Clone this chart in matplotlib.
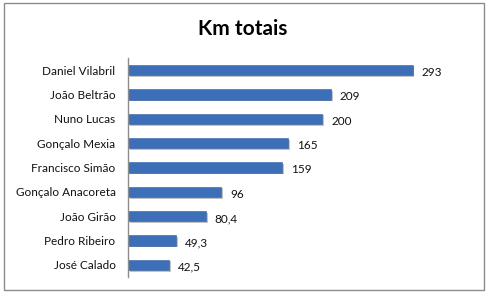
import matplotlib
matplotlib.use('Agg')
import matplotlib.pyplot as plt
import matplotlib.patheffects as pe
from matplotlib.patches import Rectangle

# data (top to bottom)
names = ['Daniel Vilabril', 'João Beltrão', 'Nuno Lucas', 'Gonçalo Mexia',
         'Francisco Simão', 'Gonçalo Anacoreta', 'João Girão', 'Pedro Ribeiro',
         'José Calado']
km = [293, 209, 200, 165, 159, 96, 80.4, 49.3, 42.5]
km_labels = ['293', '209', '200', '165', '159', '96', '80,4', '49,3', '42,5']

plt.rcParams['font.family'] = ['Lato', 'DejaVu Sans']

fig = plt.figure(figsize=(4.87, 2.95), dpi=100)
# outer frame
fig.patches.append(Rectangle((4/487, 1 - 290/295), 480/487, 287/295,
                             transform=fig.transFigure, fill=False,
                             edgecolor='#8c8c8c', linewidth=1.0))

ax = fig.add_axes([128/487, 1 - 277/295, 340/487, 219/295])
ypos = list(range(len(names)))
bars = ax.barh(ypos, km, height=0.42, color='#3d6fb8', edgecolor='#335f9f',
               linewidth=0.4)
for b in bars:
    b.set_path_effects([pe.SimplePatchShadow(offset=(1.2, -1.2), shadow_rgbFace='#9a9a9a', alpha=0.6),
                        pe.Normal()])

for y, v, lab in zip(ypos, km, km_labels):
    ax.text(v + 9, y + 0.1, lab, va='center', ha='left', fontsize=8.5, color='#111111')

ax.set_yticks(ypos)
ax.set_yticklabels(names, fontsize=8.5, color='#111111')
ax.set_ylim(len(names) - 0.5, -0.5)
ax.set_xlim(0, 350)
ax.set_xticks([])
ax.tick_params(axis='y', length=0, pad=9)
for s in ['top', 'right', 'bottom']:
    ax.spines[s].set_visible(False)
ax.spines['left'].set_color('#8c8c8c')
ax.spines['left'].set_linewidth(1.0)

fig.text(243/487, 1 - 29/295, 'Km totais', ha='center', va='center',
         fontsize=15, fontweight='bold', color='#000000')

fig.savefig('out.png', dpi=100)
